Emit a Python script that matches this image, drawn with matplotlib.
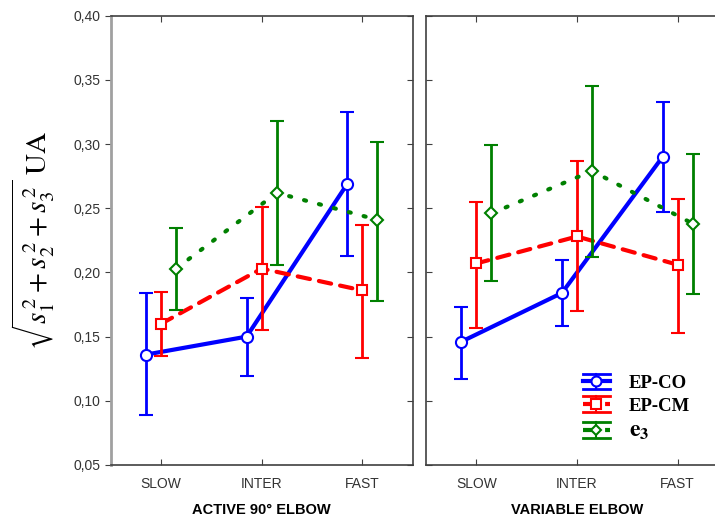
import numpy as np
import matplotlib.pyplot as plt
from matplotlib.lines import Line2D
from matplotlib.legend_handler import HandlerBase
from matplotlib.ticker import FuncFormatter

# Data (mean, lower bound, upper bound)
categories = ["SLOW", "INTER", "FAST"]
panels = ["ACTIVE 90° ELBOW", "VARIABLE ELBOW"]
series = ["EP-CO", "EP-CM", r"$\mathbf{e}_\mathbf{3}$"]

active_co = [0.136, 0.150, 0.269]
active_co_lo = [0.089, 0.119, 0.213]
active_co_hi = [0.184, 0.180, 0.325]
active_cm = [0.160, 0.203, 0.186]
active_cm_lo = [0.135, 0.155, 0.133]
active_cm_hi = [0.185, 0.251, 0.237]
active_e3 = [0.203, 0.262, 0.241]
active_e3_lo = [0.171, 0.206, 0.178]
active_e3_hi = [0.235, 0.318, 0.302]

var_co = [0.146, 0.184, 0.290]
var_co_lo = [0.117, 0.158, 0.247]
var_co_hi = [0.173, 0.210, 0.333]
var_cm = [0.207, 0.228, 0.206]
var_cm_lo = [0.157, 0.170, 0.153]
var_cm_hi = [0.255, 0.287, 0.257]
var_e3 = [0.246, 0.279, 0.238]
var_e3_lo = [0.193, 0.212, 0.183]
var_e3_hi = [0.299, 0.345, 0.292]

panel_data = [
    [(active_co, active_co_lo, active_co_hi),
     (active_cm, active_cm_lo, active_cm_hi),
     (active_e3, active_e3_lo, active_e3_hi)],
    [(var_co, var_co_lo, var_co_hi),
     (var_cm, var_cm_lo, var_cm_hi),
     (var_e3, var_e3_lo, var_e3_hi)],
]

colors = ["#0000ff", "#ff0000", "#008000"]
styles = ["-", (0, (3, 2.2)), (0, (0.5, 3.2))]
markers = ["o", "s", "D"]
msizes = [8, 7.5, 6]
offsets = [-0.15, 0.0, 0.15]


class ErrHandler(HandlerBase):
    # legend key: cap line, marker line, cap line
    def create_artists(self, legend, orig, xd, yd, w, h, fs, trans):
        c = orig.get_color()
        yc = h / 2 - yd
        dy = 0.6 * h
        x0, x1 = -xd, -xd + w
        xm = (x0 + x1) / 2
        arts = [
            Line2D([x0, x1], [yc + dy, yc + dy], color=c, lw=2),
            Line2D([x0, x1], [yc - dy, yc - dy], color=c, lw=2),
            Line2D([xm, xm], [yc - dy, yc + dy], color=c, lw=1.5),
            Line2D([x0, x1], [yc, yc], color=c, lw=3, ls=orig.get_linestyle()),
            Line2D([xm], [yc], color=c, marker=orig.get_marker(),
                   ms=orig.get_markersize(), mfc="white", mec=c, mew=1.5),
        ]
        for a in arts:
            a.set_transform(trans)
        return arts


plt.rcParams["font.family"] = ["Liberation Sans", "DejaVu Sans"]
plt.rcParams["mathtext.fontset"] = "stix"

fig = plt.figure(figsize=(7.15, 5.2), dpi=100)
ax1 = fig.add_axes([110.7 / 715, 55 / 520, 302 / 715, 449.3 / 520])
ax2 = fig.add_axes([426 / 715, 55 / 520, 302 / 715, 449.3 / 520])

x = np.arange(len(categories))
for i, ax in enumerate([ax1, ax2]):
    for j, (m, lo, hi) in enumerate(panel_data[i]):
        m = np.array(m)
        err = [m - np.array(lo), np.array(hi) - m]
        ax.errorbar(x + offsets[j], m, yerr=err, color=colors[j],
                    ls=styles[j], lw=3, elinewidth=2, capsize=5,
                    capthick=2, marker=markers[j], ms=msizes[j],
                    mfc="white", mec=colors[j], mew=1.5,
                    dash_capstyle="round", zorder=3 + j)
    ax.set_xlim(-0.5, 2.5)
    ax.set_ylim(0.05, 0.40)
    ax.set_yticks(np.arange(0.05, 0.401, 0.05))
    ax.set_xticks(x)
    ax.set_xticklabels(categories)
    ax.set_xlabel(panels[i], fontweight="bold", fontsize=10.5, labelpad=8)
    ax.tick_params(axis="x", direction="in", top=True, length=4,
                   color="#404040", labelsize=10, labelcolor="#333333", pad=9)
    for s in ax.spines.values():
        s.set_color("#404040")
        s.set_linewidth(1.2)

ax1.yaxis.set_major_formatter(FuncFormatter(lambda v, p: f"{v:.2f}".replace(".", ",")))
ax1.tick_params(axis="y", direction="out", length=4, color="#404040",
                labelsize=10, labelcolor="#333333", right=True)
for t in ax1.yaxis.get_major_ticks():
    t.tick2line.set_marker(0)
    t.tick2line.set_markersize(4)
ax1.spines["left"].set_color("#a0a0a0")
ax1.spines["left"].set_linewidth(2)
ax1.set_ylabel(r"$\sqrt{s_1^{\,2}+s_2^{\,2}+s_3^{\,2}}\ \mathrm{UA}$",
               fontsize=21, labelpad=12)

ax2.tick_params(axis="y", direction="in", length=4, color="#404040",
                labelleft=False)

proxies = [Line2D([], [], color=colors[j], ls=styles[j], marker=markers[j],
                  ms=msizes[j] * 0.9) for j in range(3)]
leg = fig.legend(proxies, series, loc="upper left",
                 bbox_to_anchor=(566 / 715, 1 - 358 / 520),
                 frameon=False, handlelength=1.45, handletextpad=1.0,
                 labelspacing=0.3, handler_map={p: ErrHandler() for p in proxies},
                 prop={"family": "Liberation Serif", "weight": "bold", "size": 13.5})
leg.get_texts()[2].set_fontsize(17)

fig.savefig("out.png", dpi=100)
